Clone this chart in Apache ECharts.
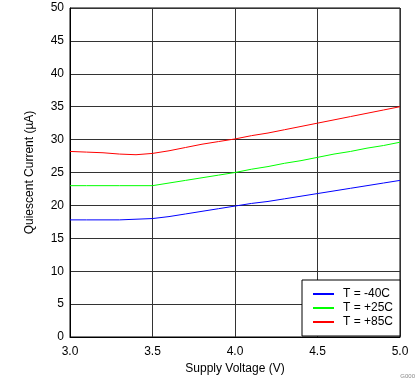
<!DOCTYPE html>
<html><head><meta charset="utf-8">
<script src="https://cdn.jsdelivr.net/npm/echarts@6/dist/echarts.min.js"></script>
<style>html,body{margin:0;padding:0;background:#fff}#c{width:419px;height:382px}</style>
</head><body><div id="c"></div>
<script>
const volts = [3.0,3.1,3.2,3.3,3.4,3.5,3.6,3.7,3.8,3.9,4.0,4.1,4.2,4.3,4.4,4.5,4.6,4.7,4.8,4.9,5.0];
const tMinus40 = [17.8,17.8,17.8,17.8,17.9,18.0,18.3,18.7,19.1,19.5,19.9,20.3,20.6,21.0,21.4,21.8,22.2,22.6,23.0,23.4,23.8];
const tPlus25 = [23.0,23.0,23.0,23.0,23.0,23.0,23.4,23.8,24.2,24.6,25.0,25.5,25.9,26.4,26.8,27.3,27.8,28.2,28.7,29.1,29.6];
const tPlus85 = [28.2,28.1,28.0,27.8,27.7,27.9,28.3,28.8,29.3,29.7,30.1,30.6,31.0,31.5,32.0,32.5,33.0,33.5,34.0,34.5,35.0];
const seriesNames = ['T = -40C','T = +25C','T = +85C'];
const xTicks = ['3.0','3.5','4.0','4.5','5.0'];

const font = 'Liberation Sans, Arial, sans-serif';
const chart = echarts.init(document.getElementById('c'));
function pairs(ys){ return volts.map((v,i)=>[v, ys[i]]); }
chart.setOption({
  animation:false,
  grid:{left:70,right:19,top:8,bottom:45,show:true,borderColor:'#000',borderWidth:1,containLabel:false},
  xAxis:{type:'value',min:3,max:5,interval:0.5,
    name:'Supply Voltage (V)',nameLocation:'middle',nameGap:19,
    nameTextStyle:{fontFamily:font,fontSize:12,color:'#000'},
    axisLine:{show:true,lineStyle:{color:'#000'}},axisTick:{show:false},
    axisLabel:{fontFamily:font,fontSize:12,color:'#000',margin:9,formatter:v=>xTicks[Math.round((v-3)/0.5)]},
    splitLine:{show:true,lineStyle:{color:'#333',width:1}}},
  yAxis:{type:'value',min:0,max:50,interval:5,
    name:'Quiescent Current (µA)',nameLocation:'middle',nameGap:34,
    nameTextStyle:{fontFamily:font,fontSize:12,color:'#000'},
    axisLine:{show:true,lineStyle:{color:'#000'}},axisTick:{show:false},
    axisLabel:{fontFamily:font,fontSize:12,color:'#000',margin:6},
    splitLine:{show:true,lineStyle:{color:'#333',width:1}}},
  legend:{orient:'vertical',left:302,top:280,padding:[7,7,7,11],itemGap:0,
    itemWidth:21,itemHeight:2,icon:'rect',
    backgroundColor:'#fff',borderColor:'#000',borderWidth:1,borderRadius:0,
    textStyle:{fontFamily:font,fontSize:12,color:'#000',lineHeight:14,padding:[0,0,0,4]},
    data:seriesNames},
  series:[
    {name:seriesNames[0],type:'line',data:pairs(tMinus40),symbol:'none',color:'#0000ff',lineStyle:{width:1}},
    {name:seriesNames[1],type:'line',data:pairs(tPlus25),symbol:'none',color:'#00ff00',lineStyle:{width:1}},
    {name:seriesNames[2],type:'line',data:pairs(tPlus85),symbol:'none',color:'#ff0000',lineStyle:{width:1}}
  ],
  graphic:[{type:'text',right:4,bottom:3,style:{text:'G000',fontFamily:font,fontSize:6,fill:'#888'}}]
});
</script></body></html>
